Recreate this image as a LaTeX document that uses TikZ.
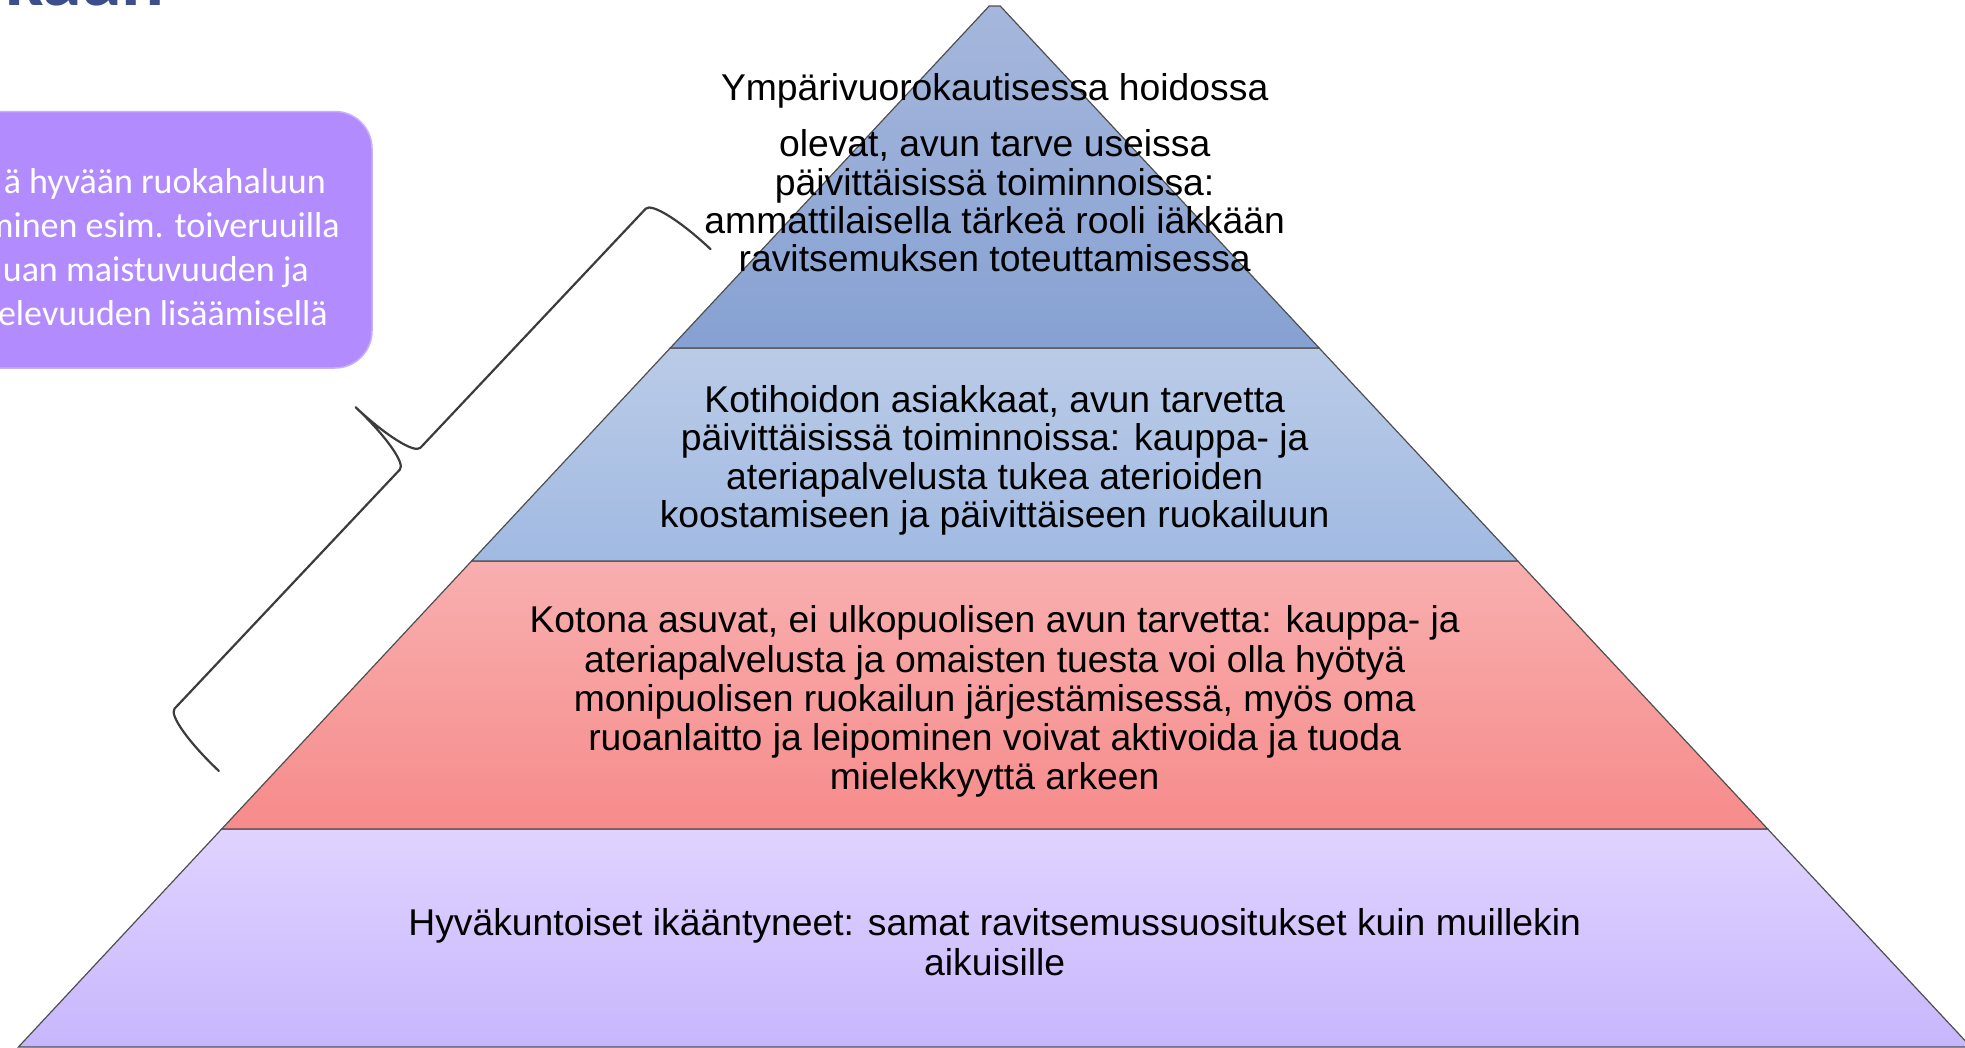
\documentclass[tikz,border=0pt]{standalone}
\usepackage{fontspec}
\setmainfont{Liberation Sans}
\newfontfamily\boxfont{Carlito}
\definecolor{titleblue}{HTML}{3C4F8C}
\definecolor{boxfill}{HTML}{B28BFE}
\definecolor{boxedge}{HTML}{C8B0FF}
\definecolor{edgegray}{HTML}{4F4F4F}
\definecolor{bracegray}{HTML}{3C3C3C}
\definecolor{aT}{HTML}{A6B7DC}
\definecolor{aB}{HTML}{86A1D2}
\definecolor{bT}{HTML}{BACBE7}
\definecolor{bB}{HTML}{A1BAE2}
\definecolor{cT}{HTML}{F8AFAF}
\definecolor{cB}{HTML}{F78B8B}
\definecolor{dT}{HTML}{E0D3FF}
\definecolor{dB}{HTML}{C8B6FD}
\tikzset{
  band/.style={draw=edgegray, line width=1.2pt},
  bandtext/.style={inner sep=0pt, align=center, text=black, anchor=base},
  boxtext/.style={inner sep=0pt, text=white, anchor=base east, font=\boxfont\fontsize{36}{44}\selectfont},
  bracestroke/.style={draw=bracegray, line width=2.2pt, line join=round, line cap=round}
}
\begin{document}
\begin{tikzpicture}[x=1pt,y=-1pt]
\useasboundingbox (0,0) rectangle (1965,1047);
\clip (0,0) rectangle (1965,1047);

% title fragment
\node[anchor=base east, inner sep=0pt, text=titleblue, font=\boxfont\bfseries\fontsize{80}{90}\selectfont] (title) at (165,5) {kaan};

% purple box
\draw[fill=boxfill, draw=boxedge, line width=1.5pt, rounded corners=37pt] (-60,111.5) rectangle (372,368);
\node[boxtext] (b1) at (326,193) {ä hyvään ruokahaluun};
\node[boxtext] (b2) at (340,237) {minen esim. toiveruuilla};
\node[boxtext] (b3) at (309,281) {uan maistuvuuden ja};
\node[boxtext] (b4) at (328,325) {elevuuden lisäämisellä};

% pyramid coordinates
\coordinate (p0l) at (989.2,6);
\coordinate (p0r) at (1000.2,6);
\coordinate (p1l) at (670.25,348);
\coordinate (p1r) at (1319.15,348);
\coordinate (p2l) at (471.6,561);
\coordinate (p2r) at (1517.8,561);
\coordinate (p3l) at (221.7,829);
\coordinate (p3r) at (1767.7,829);
\coordinate (p4l) at (18.4,1047);
\coordinate (p4r) at (1971.0,1047);

\shadedraw[band, top color=dT, bottom color=dB] (p3l) -- (p3r) -- (p4r) -- (p4l) -- cycle;
\shadedraw[band, top color=cT, bottom color=cB] (p2l) -- (p2r) -- (p3r) -- (p3l) -- cycle;
\shadedraw[band, top color=bT, bottom color=bB] (p1l) -- (p1r) -- (p2r) -- (p2l) -- cycle;
\shadedraw[band, top color=aT, bottom color=aB] (p0l) -- (p0r) -- (p1r) -- (p1l) -- cycle;

% texts (base anchor = baseline of the last line)
\node[bandtext, font=\fontsize{37.3}{38.3}\selectfont] (t1) at (994.7,100) {Ympärivuorokautisessa hoidossa};
\node[bandtext, font=\fontsize{37.3}{38.3}\selectfont] (t2) at (994.7,271.6) {olevat, avun tarve useissa\\päivittäisissä toiminnoissa:\\ammattilaisella tärkeä rooli iäkkään\\ravitsemuksen toteuttamisessa};
\node[bandtext, font=\fontsize{37.3}{38.5}\selectfont] (t3) at (994.7,527.5) {Kotihoidon asiakkaat, avun tarvetta\\päivittäisissä toiminnoissa: kauppa- ja\\ateriapalvelusta tukea aterioiden\\koostamiseen ja päivittäiseen ruokailuun};
\node[bandtext, font=\fontsize{37.3}{39.3}\selectfont] (t4) at (994.7,789.9) {Kotona asuvat, ei ulkopuolisen avun tarvetta: kauppa- ja\\ateriapalvelusta ja omaisten tuesta voi olla hyötyä\\monipuolisen ruokailun järjestämisessä, myös oma\\ruoanlaitto ja leipominen voivat aktivoida ja tuoda\\mielekkyyttä arkeen};
\node[bandtext, font=\fontsize{37.3}{40}\selectfont] (t5) at (994.7,975) {Hyväkuntoiset ikääntyneet: samat ravitsemussuositukset kuin muillekin\\aikuisille};

% brace
\begin{scope}[shift={(710.6,249.2)}]
\begin{scope}[x={(-0.6858pt,-0.7277pt)}, y={(-0.7277pt,0.6858pt)}]
\draw[bracestroke] (0,0) .. controls (0,41.4) and (6.7,75) .. (15,75) -- (343.5,75)
  .. controls (351.8,75) and (358.5,108.6) .. (358.5,150)
  .. controls (358.5,108.6) and (365.2,75) .. (373.5,75) -- (702,75)
  .. controls (710.3,75) and (717,41.4) .. (717,0);
\end{scope}
\end{scope}
\end{tikzpicture}
\end{document}
